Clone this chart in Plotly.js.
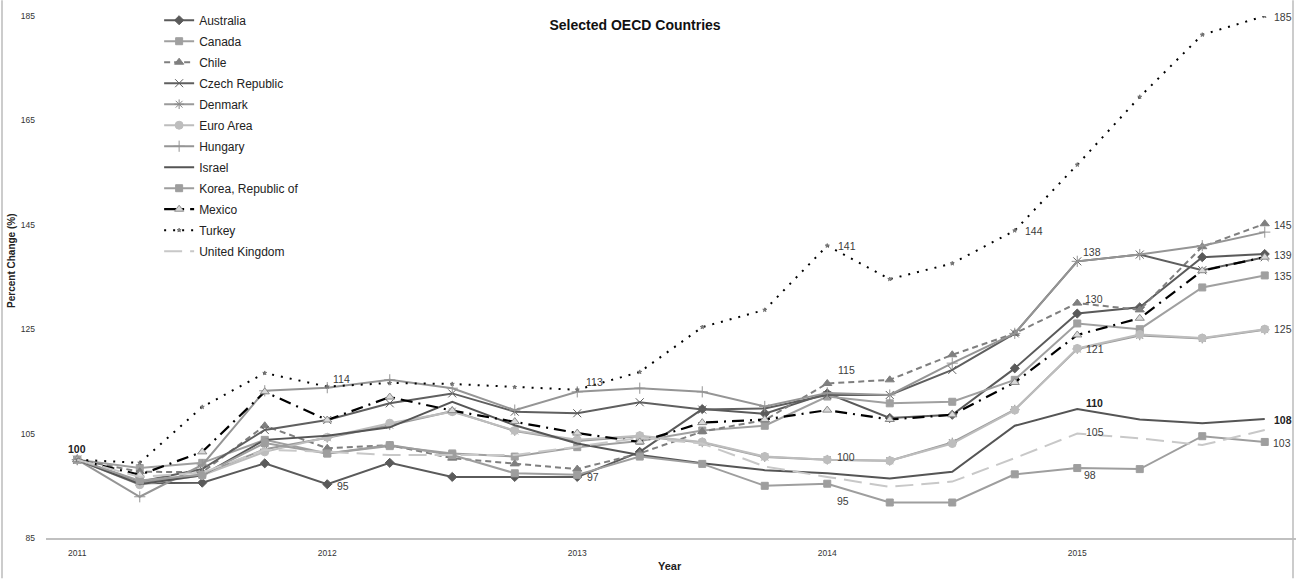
<!DOCTYPE html>
<html>
<head>
<meta charset="utf-8">
<script src="https://cdn.plot.ly/plotly-3.0.1.min.js"></script>
<style>
html,body{margin:0;padding:0;background:#fff;}
#chart{width:1296px;height:580px;}
</style>
</head>
<body>
<div id="chart"></div>
<script>
// Quarterly periods 2011 Q1 .. 2015 Q4
const periods = [2011, 2011.25, 2011.5, 2011.75, 2012, 2012.25, 2012.5, 2012.75, 2013, 2013.25, 2013.5, 2013.75, 2014, 2014.25, 2014.5, 2014.75, 2015, 2015.25, 2015.5, 2015.75];
const yearTicks = [2011, 2012, 2013, 2014, 2015];
const yTicks = [85, 105, 125, 145, 165, 185];

const australia = [100, 95.5, 95.6, 99.3, 95.3, 99.4, 96.7, 96.7, 96.7, 101.5, 109.7, 108.8, 112.7, 108.0, 108.6, 117.5, 128.0, 129.2, 138.8, 139.4];
const canada    = [100, 98.4, 99.4, 103.8, 101.2, 102.6, 101.2, 100.6, 102.4, 103.6, 105.6, 106.5, 112.1, 110.8, 111.1, 115.3, 126.1, 125.0, 133.0, 135.3];
const chile     = [100, 97.7, 97.6, 106.5, 102.2, 102.8, 100.3, 99.2, 98.2, 101.2, 105.4, 107.6, 114.6, 115.3, 120.1, 124.2, 130.0, 128.7, 140.8, 145.2];
const czech     = [100, 95.8, 98.2, 105.7, 107.6, 110.8, 112.7, 109.2, 108.9, 111.0, 109.6, 109.8, 112.4, 112.4, 117.2, 124.2, 138.0, 139.3, 136.3, 138.8];
const denmark   = [100, 95.6, 97.2, 102.0, 104.2, 106.6, 109.3, 105.5, 103.6, 104.5, 103.3, 100.5, 100.0, 99.8, 103.3, 109.6, 121.2, 123.8, 123.2, 124.9];
const euroArea  = [100, 95.2, 97.0, 101.5, 104.3, 107.0, 109.2, 105.6, 103.8, 104.6, 103.4, 100.6, 100.0, 99.8, 103.1, 109.5, 121.3, 124.0, 123.3, 125.0];
const hungary   = [100, 92.9, 99.0, 113.2, 113.8, 115.3, 113.7, 109.5, 113.0, 113.7, 113.0, 110.2, 112.8, 112.4, 118.5, 124.2, 138.0, 139.3, 141.0, 143.6];
const israel    = [100, 95.3, 97.0, 103.8, 104.6, 106.2, 111.1, 106.6, 103.1, 100.9, 99.3, 98.0, 97.4, 96.4, 97.7, 106.5, 109.7, 107.7, 107.0, 107.8];
const korea     = [100, 96.0, 97.1, 103.2, 101.2, 102.8, 100.9, 97.4, 97.1, 100.6, 99.2, 95.0, 95.4, 91.8, 91.8, 97.2, 98.4, 98.2, 104.5, 103.4];
const mexico    = [100, 97.1, 101.5, 113.0, 107.6, 112.0, 109.4, 107.3, 105.1, 103.4, 107.1, 107.7, 109.5, 107.7, 108.6, 114.8, 123.9, 127.1, 136.2, 138.8];
const turkey    = [100, 99.4, 110.1, 116.6, 114.0, 114.7, 114.5, 113.9, 113.4, 116.8, 125.4, 128.7, 141.0, 134.6, 137.6, 143.9, 156.5, 169.5, 181.4, 185.0];
const uk        = [100, 96.7, 97.5, 101.9, 101.5, 100.9, 100.9, 100.9, 102.5, 104.2, 103.1, 98.7, 96.7, 94.8, 95.8, 100.3, 105.0, 104.1, 102.8, 105.7];

const seriesNames = ["Australia", "Canada", "Chile", "Czech Republic", "Denmark", "Euro Area", "Hungary", "Israel", "Korea, Republic of", "Mexico", "Turkey", "United Kingdom"];
const seriesValues = [australia, canada, chile, czech, denmark, euroArea, hungary, israel, korea, mexico, turkey, uk];

// value labels: [series index, point index, bold]
const valueLabels = [
  [0, 0, true], [10, 4, false], [0, 4, false], [10, 8, false], [8, 8, false],
  [10, 12, false], [2, 12, false], [5, 12, false], [8, 12, false], [10, 15, false],
  [6, 16, false], [2, 16, false], [5, 16, false], [7, 16, true], [11, 16, false], [8, 16, false],
  [10, 19, false], [2, 19, false], [0, 19, false], [1, 19, false], [5, 19, false], [7, 19, true], [8, 19, false]
];

const styles = [
  {color:'#5a5a5a', dash:'solid', width:2, symbol:'diamond', msize:7, mcolor:'#5a5a5a'},
  {color:'#a0a0a0', dash:'solid', width:2, symbol:'square', msize:7, mcolor:'#a0a0a0'},
  {color:'#7f7f7f', dash:'6px,4px', width:2, symbol:'triangle-up', msize:8, mcolor:'#7f7f7f'},
  {color:'#5f5f5f', dash:'solid', width:2, symbol:'x-thin-open', msize:8, mcolor:'#5f5f5f'},
  {color:'#9a9a9a', dash:'solid', width:2, symbol:'asterisk-open', msize:8, mcolor:'#8a8a8a'},
  {color:'#bdbdbd', dash:'solid', width:2, symbol:'circle', msize:8, mcolor:'#bdbdbd'},
  {color:'#959595', dash:'solid', width:2, symbol:'cross-thin-open', msize:8, mcolor:'#959595'},
  {color:'#555555', dash:'solid', width:2, symbol:'circle', msize:0, mcolor:'#555555'},
  {color:'#9e9e9e', dash:'solid', width:2, symbol:'square', msize:7, mcolor:'#9e9e9e'},
  {color:'#000000', dash:'12px,6px,2px,6px', width:2.2, symbol:'triangle-up', msize:8, mcolor:'#d9d9d9', mline:'#8a8a8a'},
  {color:'#000000', dash:'2px,7px', width:2, symbol:'star', msize:3, mcolor:'#777777'},
  {color:'#c8c8c8', dash:'18px,8px', width:2, symbol:'square', msize:0, mcolor:'#c8c8c8'}
];

const traces = seriesNames.map((name, k) => {
  const s = styles[k];
  return {
    type: 'scatter',
    mode: s.msize > 0 ? 'lines+markers' : 'lines',
    name: name,
    legendgroup: 'g' + k,
    x: periods,
    y: seriesValues[k],
    line: {color: s.color, dash: s.dash, width: s.width},
    marker: {symbol: s.symbol, size: s.msize, color: s.mcolor, line: {color: s.mline || s.mcolor, width: 1}},
    hoverinfo: 'x+y+name'
  };
});

const labelOffsets = {
  '0-0': [0, 11], '10-4': [14, 8], '0-4': [16, -2], '10-8': [17, 8], '8-8': [16, -2],
  '10-12': [20, 0], '2-12': [19, 13], '5-12': [19, 3], '8-12': [16, -17], '10-15': [19, 0],
  '6-16': [15, 9], '2-16': [17, 4], '5-16': [18, 0], '7-16': [17, 6], '11-16': [18, 2], '8-16': [13, -7],
  '10-19': [18, -1], '2-19': [18, -1], '0-19': [18, -1], '1-19': [18, -1], '5-19': [18, 0], '7-19': [18, -1], '8-19': [17, -1]
};

const annotations = valueLabels.map(([k, i, bold]) => {
  const off = labelOffsets[k + '-' + i] || [16, 0];
  const v = Math.round(seriesValues[k][i]);
  return {
    x: periods[i], y: seriesValues[k][i], xref: 'x', yref: 'y',
    text: bold ? '<b>' + v + '</b>' : String(v),
    showarrow: false, xshift: off[0], yshift: off[1],
    font: {family: 'Liberation Sans, Arial, sans-serif', size: 10.5, color: bold ? '#222222' : '#3c3c3c'}
  };
});

annotations.push({
  xref: 'paper', yref: 'paper', x: -0.0275, y: 0.53, xanchor: 'center', yanchor: 'middle',
  text: '<b>Percent Change (%)</b>', textangle: -90, showarrow: false,
  font: {family: 'Liberation Sans, Arial, sans-serif', size: 10, color: '#222222'}
});
annotations.push({
  xref: 'paper', yref: 'paper', x: 0.499, y: -0.0536, xanchor: 'center', yanchor: 'middle',
  text: '<b>Year</b>', showarrow: false,
  font: {family: 'Liberation Sans, Arial, sans-serif', size: 11, color: '#222222'}
});

const layout = {
  width: 1296, height: 580,
  margin: {l: 46, r: 0, t: 16, b: 42},
  paper_bgcolor: '#ffffff', plot_bgcolor: '#ffffff',
  font: {family: 'Liberation Sans, Arial, sans-serif', color: '#333333'},
  title: {
    text: '<b>Selected OECD Countries</b>',
    x: 0.49, xanchor: 'center', xref: 'container',
    y: 0.957, yanchor: 'middle', yref: 'container',
    font: {family: 'Liberation Sans, Arial, sans-serif', size: 14, color: '#111111'}
  },
  xaxis: {
    range: [2010.875, 2015.875],
    tickvals: yearTicks, ticktext: yearTicks.map(String),
    showgrid: false, zeroline: false,
    showline: true, linecolor: '#c0c0c0', linewidth: 1.5,
    ticks: '', ticklabelstandoff: 6,
    tickfont: {size: 8.5, color: '#333333'}
  },
  yaxis: {
    range: [85, 185],
    tickvals: yTicks, ticktext: yTicks.map(String),
    showgrid: false, zeroline: false, showline: false,
    ticks: '', ticklabelstandoff: 10,
    tickfont: {size: 8.5, color: '#333333'}
  },
  legend: {
    x: 0.0905, xanchor: 'left', y: 1.0197, yanchor: 'top',
    bgcolor: 'rgba(0,0,0,0)', borderwidth: 0,
    tracegroupgap: 2,
    font: {family: 'Liberation Sans, Arial, sans-serif', size: 12, color: '#222222'}
  },
  showlegend: true,
  annotations: annotations,
  shapes: [
    {type: 'line', xref: 'paper', yref: 'paper', x0: -0.0352, x1: -0.0352, y0: -0.077, y1: 1.03, line: {color: '#bbbbbb', width: 1.5}},
    {type: 'line', xref: 'paper', yref: 'paper', x0: 0.9976, x1: 0.9976, y0: -0.077, y1: 1.03, line: {color: '#bbbbbb', width: 1.5}}
  ]
};

Plotly.newPlot('chart', traces, layout, {displayModeBar: false, staticPlot: true});
</script>
</body>
</html>
